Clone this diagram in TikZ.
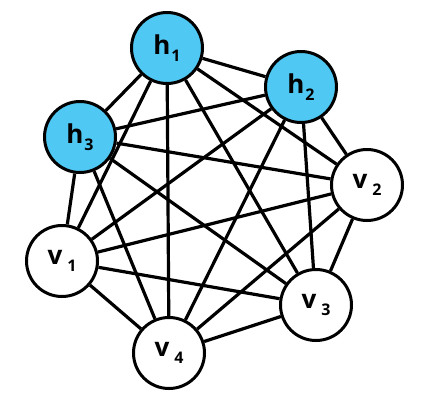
\documentclass[tikz,border=0pt]{standalone}
\usepackage{fontspec}
\setmainfont{Open Sans}
\definecolor{hblue}{HTML}{4FC9F3}
\newcommand\nlab[3]{#1\kern#3\raisebox{-7pt}{\fontsize{16}{16}\selectfont #2}}
\begin{document}
\begin{tikzpicture}[x=1pt,y=-1pt,
  vert/.style={circle,draw=black,line width=3pt,minimum size=71pt,inner sep=0pt,fill=white,
    font=\fontsize{26}{26}\selectfont\bfseries},
  hid/.style={vert,fill=hblue},
  edge/.style={line width=3.2pt}]
\useasboundingbox (0,0) rectangle (432,410);
\node[hid]  (h1) at (167,48)  {\nlab{h}{1}{1pt}};
\node[hid]  (h2) at (301,87)  {\nlab{h}{2}{1pt}};
\node[hid]  (h3) at (80,137)  {\nlab{h}{3}{1pt}};
\node[vert] (v2) at (367,185) {\nlab{v}{2}{5pt}};
\node[vert] (v1) at (62,261)  {\nlab{v}{1}{5pt}};
\node[vert] (v3) at (316,305) {\nlab{v}{3}{5pt}};
\node[vert] (v4) at (169,353) {\nlab{v}{4}{5pt}};
\foreach \a/\b in {h1/h2,h1/h3,h1/v1,h1/v2,h1/v3,h1/v4,
                   h2/h3,h2/v1,h2/v2,h2/v3,h2/v4,
                   h3/v1,h3/v2,h3/v3,h3/v4,
                   v1/v2,v1/v3,v1/v4,
                   v2/v3,v2/v4,
                   v3/v4}
  \draw[edge] (\a) -- (\b);
\end{tikzpicture}
\end{document}
